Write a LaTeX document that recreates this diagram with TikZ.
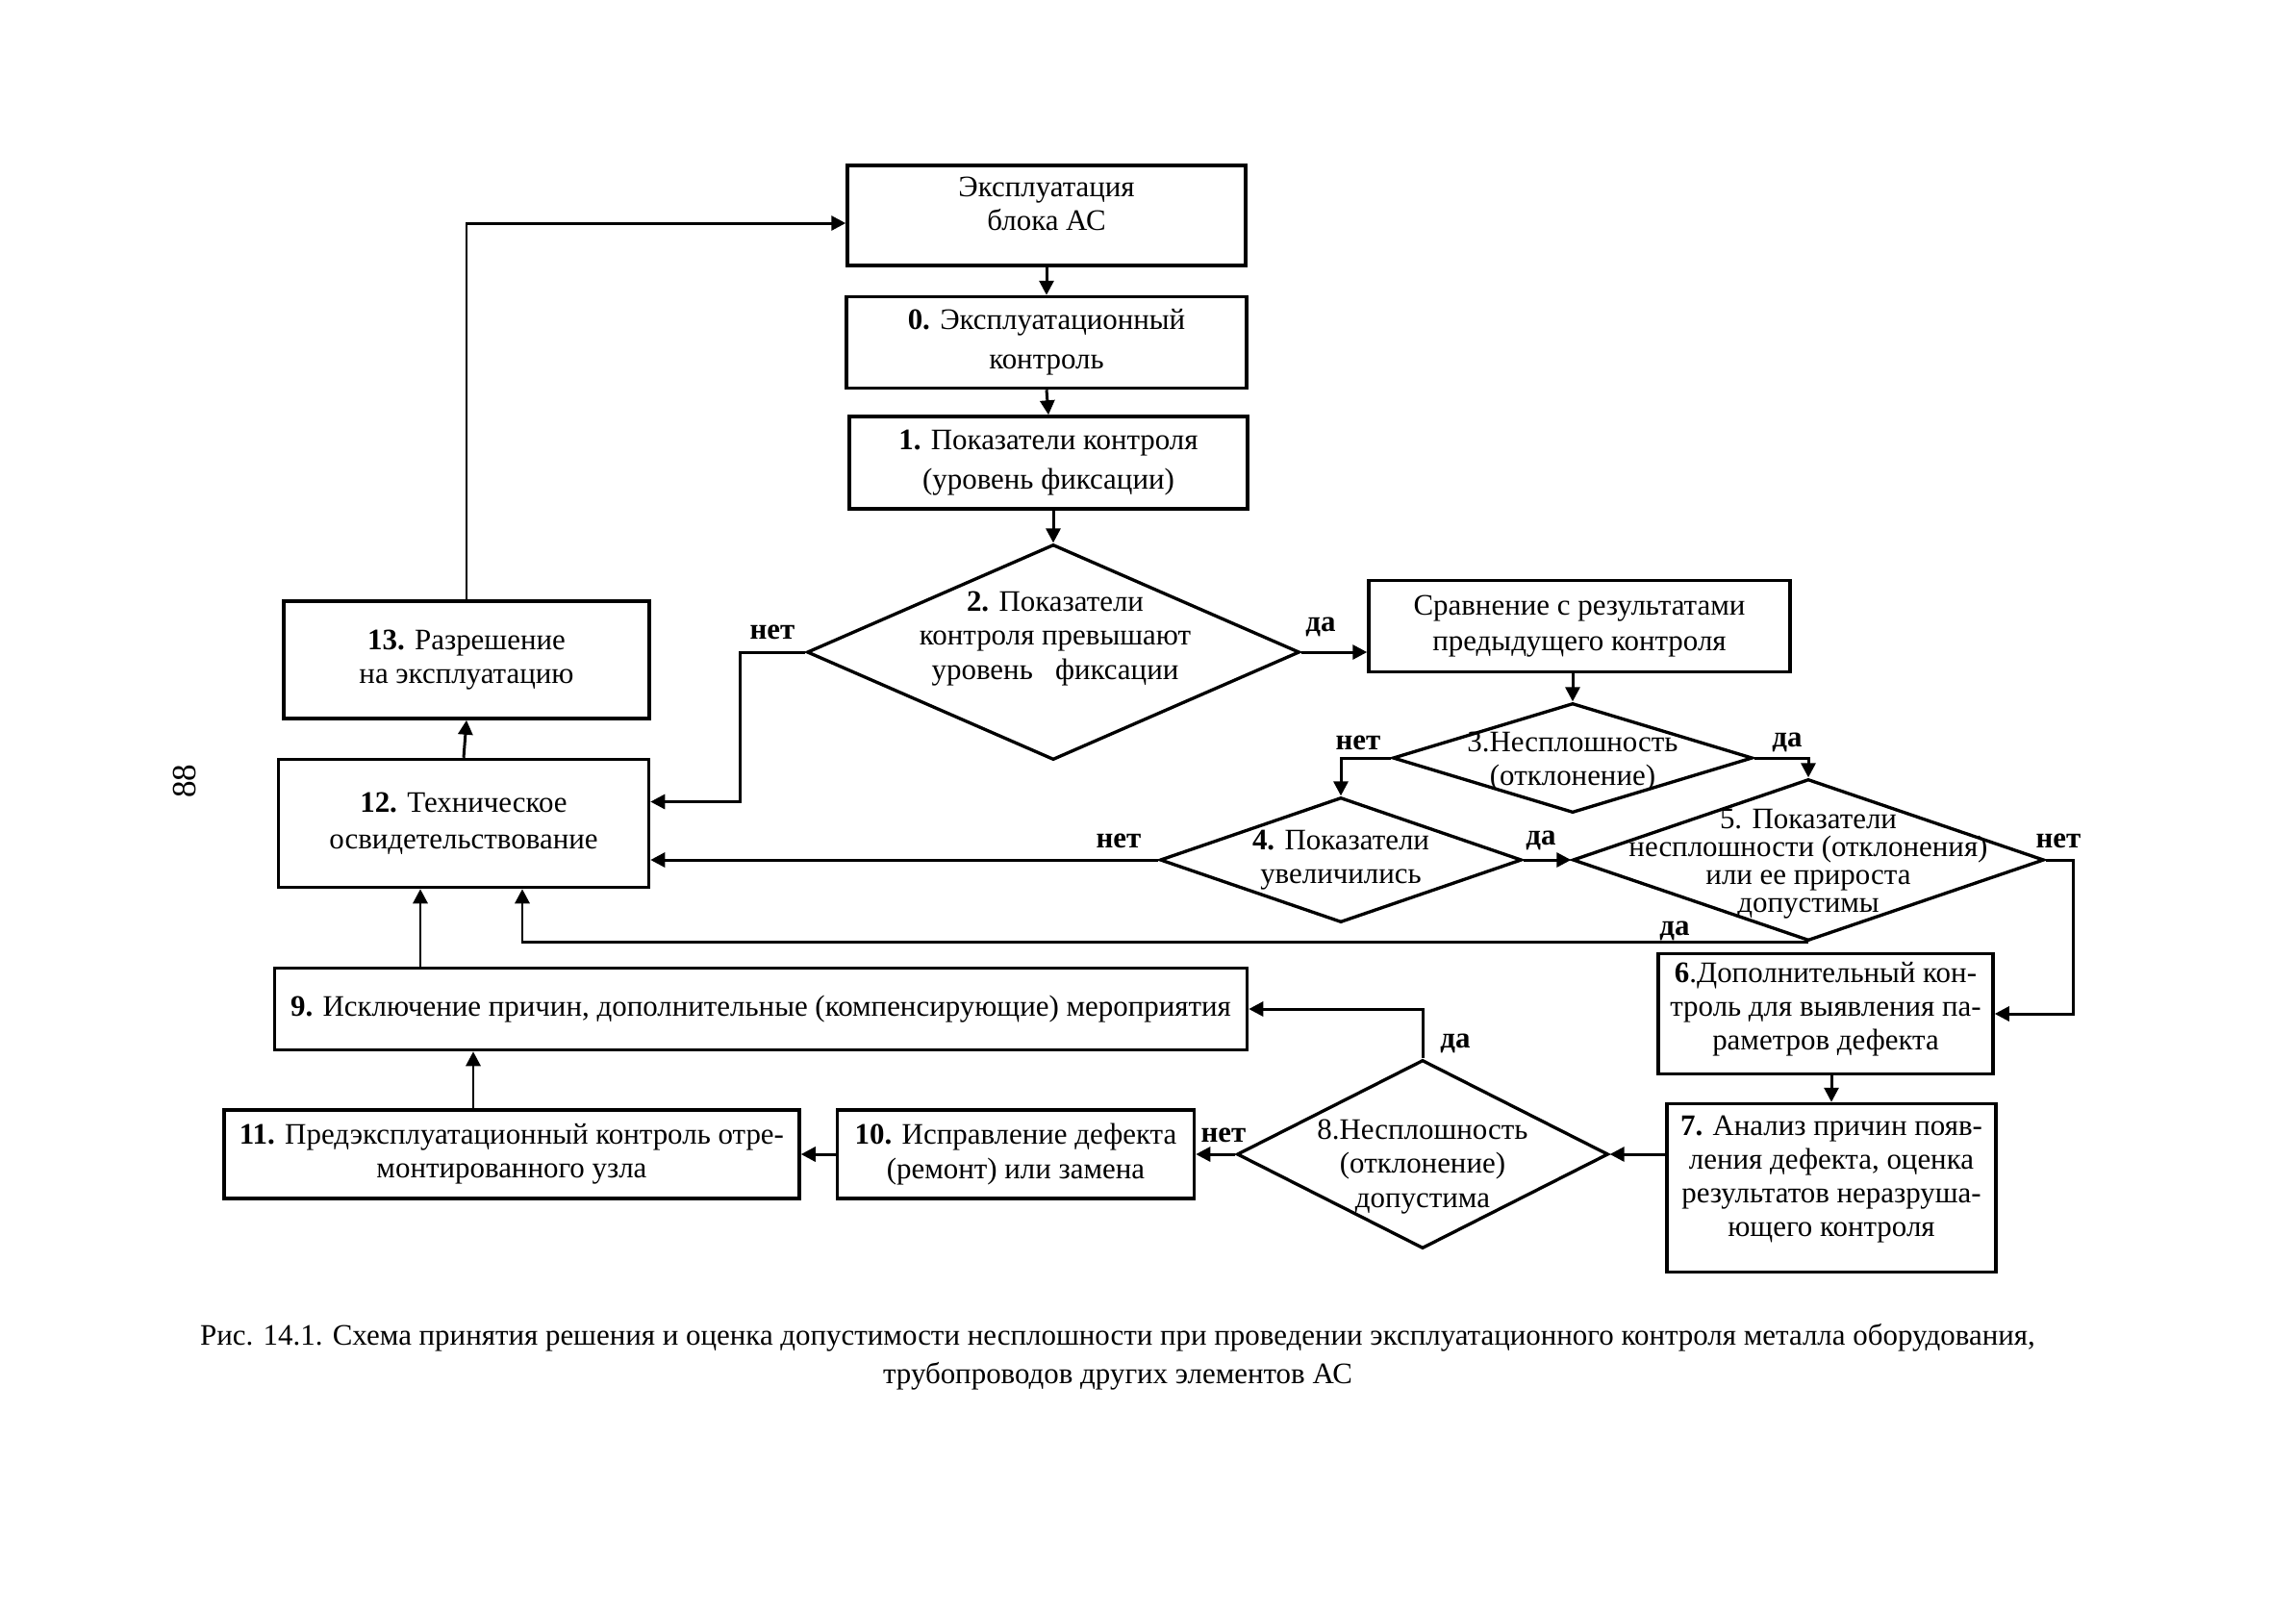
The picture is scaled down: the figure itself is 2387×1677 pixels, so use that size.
\documentclass[tikz,border=0pt]{standalone}
\usepackage{fontspec}
\setmainfont{Liberation Serif}
\usetikzlibrary{shapes.geometric,arrows.meta,calc}
\begin{document}
\begin{tikzpicture}[x=0.1mm,y=-0.1mm,
  every node/.style={font=\fontsize{8.8}{10}\selectfont},
  box/.style={draw, line width=1pt, rectangle, inner sep=0pt, align=center},
  dia/.style={draw, line width=0.95pt, diamond, inner sep=0pt},
  txt/.style={align=center, inner sep=0pt},
  lbl/.style={font=\fontsize{8.8}{10}\selectfont\bfseries, inner sep=0pt},
  arr/.style={line width=0.85pt, -{Triangle[length=1.5mm,width=1.5mm]}}
]
\useasboundingbox (0,0) rectangle (2387,1677);

% boxes
\node[box, minimum width=41.4mm, minimum height=10.4mm] (A) at (1088,224) {};
\node[txt] (tA) at (1088,212) {Эксплуатация\\блока АС};
\node[box, minimum width=41.6mm, minimum height=9.5mm, font=\fontsize{8.8}{11.6}\selectfont] (B0) at (1088,356) {\textbf{0.} Эксплуатационный\\контроль};
\node[box, minimum width=41.4mm, minimum height=9.6mm, font=\fontsize{8.8}{11.6}\selectfont] (B1) at (1090,481) {\textbf{1.} Показатели контроля\\(уровень фиксации)};
\node[box, minimum width=43.8mm, minimum height=9.5mm, font=\fontsize{8.8}{10.6}\selectfont] (BS) at (1642,651) {Сравнение с результатами\\предыдущего контроля};
\node[box, minimum width=38mm, minimum height=12.2mm] (B13) at (485,686) {\textbf{13.} Разрешение\\на эксплуатацию};
\node[box, minimum width=38.5mm, minimum height=13.3mm, font=\fontsize{8.8}{10.8}\selectfont] (B12) at (482,856) {\textbf{12.} Техническое\\освидетельствование};
\node[box, minimum width=101.1mm, minimum height=8.5mm] (B9) at (791,1049) {\textbf{9.} Исключение причин, дополнительные (компенсирующие) мероприятия};
\node[box, minimum width=59.8mm, minimum height=9.2mm] (B11) at (532,1200) {\textbf{11.} Предэксплуатационный контроль отре-\\монтированного узла};
\node[box, minimum width=37.1mm, minimum height=9.2mm] (B10) at (1056,1200) {\textbf{10.} Исправление дефекта\\(ремонт) или замена};
\node[box, minimum width=34.8mm, minimum height=12.5mm] (B6) at (1898,1054) {};
\node[txt] (tB6) at (1898,1049) {\textbf{6}.Дополнительный кон-\\троль для выявления па-\\раметров дефекта};
\node[box, minimum width=34.2mm, minimum height=17.5mm] (B7) at (1904,1235) {};
\node[txt] (tB7) at (1904,1226) {\textbf{7.} Анализ причин появ-\\ления дефекта, оценка\\результатов неразруша-\\ющего контроля};

% diamonds
\node[dia, minimum width=51.2mm, minimum height=22.4mm] (D2) at (1095,678) {};
\node[txt] (tD2) at (1097,664) {\textbf{2.} Показатели\\контроля превышают\\уровень\enspace\ фиксации};
\node[dia, minimum width=37.4mm, minimum height=11.4mm] (D3) at (1635,788) {};
\node[txt] (tD3) at (1635,792) {3.Несплошность\\(отклонение)};
\node[dia, minimum width=37.6mm, minimum height=13mm] (D4) at (1394,894) {};
\node[txt] (tD4) at (1394,894) {\textbf{4.} Показатели\\увеличились};
\node[dia, minimum width=49mm, minimum height=16.8mm] (D5) at (1880,894) {};
\node[txt, font=\fontsize{8.8}{8.3}\selectfont] (tD5) at (1880,898) {5. Показатели\\несплошности (отклонения)\\или ее прироста\\допустимы};
\node[dia, minimum width=38.6mm, minimum height=19.6mm] (D8) at (1479,1200) {};
\node[txt] (tD8) at (1479,1213) {8.Несплошность\\(отклонение)\\допустима};

% helper coordinates on box 12 bottom
\coordinate (b12l) at ([xshift=-4.5mm]B12.south);
\coordinate (b12r) at ([xshift=6.1mm]B12.south);

% connectors
\draw[arr] (A.south) -- (B0.north);
\draw[arr] (B0.south) -- (B1.north);
\draw[arr] (D2.north |- B1.south) -- (D2.north);
\draw[arr] (D2.east) -- (D2.east -| BS.west);
\draw[arr] (D3.north |- BS.south) -- (D3.north);
\draw[arr] (D3.west) -| (D4.north);
\draw[arr] (D3.east) -| (D5.north);
\draw[arr] (D4.east) -- (D5.west);
\draw[arr] (D4.west) -- (D4.west -| B12.east);
\draw[arr] (D2.west) -- ++(-68,0) |- ([yshift=2.25mm]B12.east);
\draw[arr] (D5.south) -| (b12r);
\draw[arr] (B9.north -| b12l) -- (b12l);
\draw[arr] (B12.north) -- (B13.south);
\draw[arr] (B13.north) |- ([yshift=-0.8mm]A.west);
\draw[arr] (D5.east) -- ++(29,0) |- (B6.east);
\draw[arr] (B7.north |- B6.south) -- (B7.north);
\draw[arr] (B7.west |- D8.east) -- (D8.east);
\draw[arr] (D8.west) -- (B10.east);
\draw[arr] (B10.west) -- (B11.east);
\draw[arr] ([xshift=-4mm]B11.north) -- ([xshift=-4mm]B11.north |- B9.south);
\draw[arr] (D8.north) |- (B9.east);

% labels
\node[lbl] (l2n) at (803,657) {нет};
\node[lbl] (l2d) at (1373,652) {да};
\node[lbl] (l3n) at (1412,772) {нет};
\node[lbl] (l3d) at (1858,772) {да};
\node[lbl] (l4n) at (1163,874) {нет};
\node[lbl] (l4d) at (1602,874) {да};
\node[lbl] (l5n) at (2140,874) {нет};
\node[lbl] (l5d) at (1741,968) {да};
\node[lbl] (l8d) at (1513,1085) {да};
\node[lbl] (l8n) at (1272,1180) {нет};

% page number
\node[rotate=90, inner sep=0pt, font=\fontsize{10}{10}\selectfont] (pg) at (192,812) {88};

% caption
\node[txt, font=\fontsize{8.8}{11.5}\selectfont] (cap) at (1162,1411) {Рис. 14.1. Схема принятия решения и оценка допустимости несплошности при проведении эксплуатационного контроля металла оборудования,\\трубопроводов других элементов АС};
\end{tikzpicture}
\end{document}
